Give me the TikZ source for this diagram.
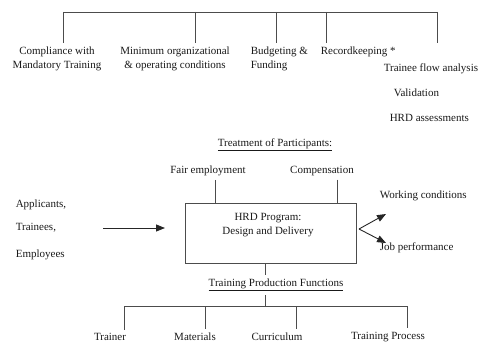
\documentclass[tikz,border=0pt]{standalone}
\usepackage{fontspec}
\setmainfont{Liberation Serif}
\usetikzlibrary{positioning,arrows.meta}

\begin{document}
\begin{tikzpicture}[x=1pt,y=-1pt,line width=0.9pt,
  every node/.style={font=\fontsize{11}{14}\selectfont,text=black!90},
  lbl/.style={align=center},
  ptr/.style={draw=black!85,-{Triangle[length=9pt,width=7pt]}}]
\useasboundingbox (0,0) rectangle (497,345);
\begin{scope}[draw=black!70]
% Top tree
\node[lbl] (compl) at (57,59) {Compliance with\\Mandatory Training};
\node[lbl] (minim) at (175,59) {Minimum organizational\\\& operating conditions};
\node[align=left,anchor=west] (budg) at (247,59) {Budgeting \&\\Funding};
\node[anchor=west] (recd) at (317,52) {Recordkeeping *};
\node[anchor=west] (tfa) at (380,69) {Trainee flow analysis};
\node[anchor=west] (valid) at (390,93) {Validation};
\node[anchor=west] (hrda) at (386,118) {HRD assessments};
\draw (63,12) -- (437,12);
\foreach \x/\n in {63/compl,195/minim,276/budg,326/recd,437/recd}
  \draw (\x,12) -- (\x,12 |- \n.north);
% Treatment of participants
\node (treat) at (275,145) {\underline{Treatment of Participants:}};
\node (fair) at (208,171) {Fair employment};
\node (comp) at (322,171) {Compensation};
% Program box
\node[draw,minimum width=171,minimum height=60,inner sep=0] (prog) at (270.5,233) {};
\node[lbl] (progtxt) at (268,225.5) {HRD Program:\\Design and Delivery};
\draw (215,0 |- fair.south) -- (215,0 |- prog.north);
\draw (337,0 |- comp.south) -- (337,0 |- prog.north);
% Participants
\node[anchor=west] (appl) at (12,205) {Applicants,};
\node[anchor=west] (train) at (12,228) {Trainees,};
\node[anchor=west] (empl) at (12,255) {Employees};
\coordinate (inS) at (103,228);
\coordinate (inE) at (165,228);
\draw[ptr] (inS) -- (inE);
% Outcomes
\node[anchor=west] (work) at (376,196) {Working conditions};
\node[anchor=west] (jobp) at (376,248) {Job performance};
\coordinate (fork) at (359,229);
\coordinate (workTip) at (386,214);
\coordinate (jobTip) at (386,243);
\draw[ptr] (fork) -- (workTip);
\draw[ptr] (fork) -- (jobTip);
% Training production functions
\node (tpf) at (276,285) {\underline{Training Production Functions}};
\coordinate (stem) at (265,306);
\draw (stem |- prog.south) -- (stem |- tpf.north);
\draw (stem |- tpf.south) -- (stem);
\node (trnr) at (110,337) {Trainer};
\node (matl) at (195,337) {Materials};
\node (curr) at (277,337) {Curriculum};
\node (tproc) at (388,337) {Training Process};
\draw (124,306) -- (407,306);
\foreach \x/\n in {124/trnr,205/matl,296/curr,407/tproc}
  \draw (\x,306) -- (\x,306 |- \n.north);
\end{scope}
\end{tikzpicture}
\end{document}
